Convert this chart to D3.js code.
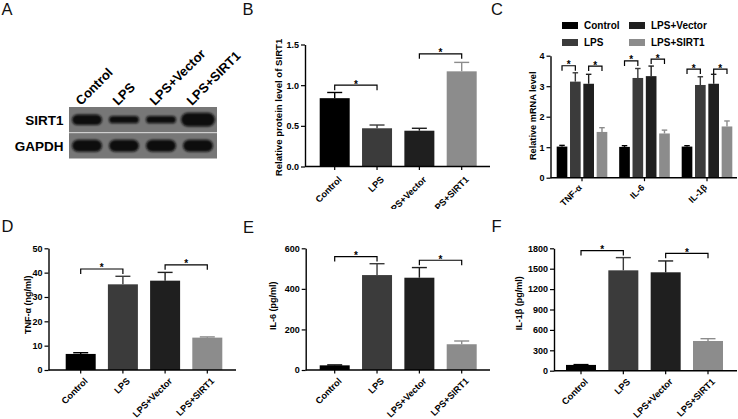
<!DOCTYPE html>
<html><head><meta charset="utf-8">
<script src="https://cdn.jsdelivr.net/npm/d3@7"></script>
<style>
html,body{margin:0;padding:0;background:#fff;}
svg{display:block;font-family:"Liberation Sans",Arial,sans-serif;}
</style></head><body>
<svg id="c" width="738" height="419"></svg>
<script>
// ---------- data ----------
const groups = ["Control", "LPS", "LPS+Vector", "LPS+SIRT1"];
const groupColors = ["#000000", "#3b3b3b", "#1f1f1f", "#8c8c8c"];

// A: western blot relative band intensities
const blotRows = ["SIRT1", "GAPDH"];
const sirt1Band = [1.0, 0.7, 0.7, 1.3];
const gapdhBand = [1.0, 1.0, 1.0, 1.0];

// B
const sirt1Protein = [0.84, 0.47, 0.44, 1.17];
const sirt1ProteinErr = [0.07, 0.04, 0.03, 0.11];
const sirt1Ticks = [0, 0.5, 1.0, 1.5];

// C
const genes = ["TNF-α", "IL-6", "IL-1β"];
const mrnaControl = [1.02, 1.01, 1.02];
const mrnaControlErr = [0.04, 0.04, 0.03];
const mrnaLPS = [3.15, 3.27, 3.04];
const mrnaLPSErr = [0.29, 0.31, 0.27];
const mrnaVector = [3.08, 3.33, 3.08];
const mrnaVectorErr = [0.31, 0.33, 0.31];
const mrnaSIRT1 = [1.50, 1.45, 1.68];
const mrnaSIRT1Err = [0.14, 0.11, 0.18];
const mrnaTicks = [0, 1, 2, 3, 4];
const mrnaBracket1 = [3.67, 3.83, 3.56];
const mrnaBracket2 = [3.66, 3.89, 3.56];

// D
const tnfa = [6.6, 35.2, 36.7, 13.3];
const tnfaErr = [0.5, 3.3, 3.4, 0.3];
const tnfaTicks = [0, 10, 20, 30, 40, 50];
// E
const il6 = [23, 468, 455, 127];
const il6Err = [2, 56, 50, 16];
const il6Ticks = [0, 200, 400, 600];
// F
const il1b = [85, 1476, 1447, 437];
const il1bErr = [5, 187, 167, 34];
const il1bTicks = [0, 300, 600, 900, 1200, 1500, 1800];

// ---------- drawing ----------
const svg = d3.select("#c");
svg.append("rect").attr("width", 738).attr("height", 419).attr("fill", "#fff");
const defs = svg.append("defs");
defs.append("clipPath").attr("id", "topRow").append("rect")
  .attr("x", 0).attr("y", 0).attr("width", 738).attr("height", 209);
defs.append("filter").attr("id", "blur").attr("x", "-20%").attr("y", "-50%")
  .attr("width", "140%").attr("height", "200%")
  .append("feGaussianBlur").attr("stdDeviation", 0.9);

function panelLetter(t, x, y) {
  svg.append("text").attr("x", x).attr("y", y).attr("font-size", 16.5)
    .attr("fill", "#111").text(t);
}
panelLetter("A", 1.5, 15); panelLetter("B", 242.5, 15); panelLetter("C", 491, 15);
panelLetter("D", 1.5, 232); panelLetter("E", 243, 233); panelLetter("F", 491.5, 232);

function drawBracket(g, x1, x2, yLine) {
  const drop = 5;
  g.append("path")
    .attr("d", `M${x1},${yLine + drop}V${yLine}H${x2}V${yLine + drop}`)
    .attr("fill", "none").attr("stroke", "#000").attr("stroke-width", 1.2);
  g.append("text").attr("x", (x1 + x2) / 2).attr("y", yLine + 2.5)
    .attr("text-anchor", "middle").attr("font-size", 10).attr("font-weight", "bold")
    .text("*");
}

function yAxis(g, y, ticks, fmt, axisX) {
  const ax = g.append("g").attr("transform", `translate(${axisX},0)`)
    .call(d3.axisLeft(y).tickValues(ticks).tickFormat(fmt).tickSize(4).tickSizeOuter(0).tickPadding(2));
  ax.select(".domain").attr("stroke", "#000").attr("stroke-width", 1.4);
  ax.selectAll(".tick line").attr("stroke", "#000").attr("stroke-width", 1.2);
  ax.selectAll(".tick text").attr("font-size", 9).attr("font-weight", "bold")
    .attr("font-family", "Liberation Sans, Arial, sans-serif").attr("fill", "#000");
}

function xAxis(g, centers, labels, axisX, axisEnd, y0, fontSize, dx, dy, clip) {
  g.append("line").attr("x1", axisX).attr("x2", axisEnd).attr("y1", y0).attr("y2", y0)
    .attr("stroke", "#000").attr("stroke-width", 1.4);
  const lg = g.append("g");
  if (clip) lg.attr("clip-path", "url(#topRow)");
  centers.forEach((cx, i) => {
    g.append("line").attr("x1", cx).attr("x2", cx).attr("y1", y0).attr("y2", y0 + 3.5)
      .attr("stroke", "#000").attr("stroke-width", 1.2);
    lg.append("text")
      .attr("transform", `translate(${cx + dx},${y0 + dy}) rotate(-45)`)
      .attr("text-anchor", "end").attr("dy", "0.71em")
      .attr("font-size", fontSize).attr("font-weight", "bold").text(labels[i]);
  });
}

function yTitle(g, text, x, y, size) {
  g.append("text").attr("transform", `translate(${x},${y}) rotate(-90)`)
    .attr("text-anchor", "middle").attr("font-size", size).attr("font-weight", "bold")
    .text(text);
}

function errorBar(g, cx, yTopVal, yErrVal, capW, color) {
  g.append("line").attr("x1", cx).attr("x2", cx).attr("y1", yTopVal).attr("y2", yErrVal)
    .attr("stroke", color).attr("stroke-width", 1.4);
  g.append("line").attr("x1", cx - capW / 2).attr("x2", cx + capW / 2)
    .attr("y1", yErrVal).attr("y2", yErrVal)
    .attr("stroke", color).attr("stroke-width", 1.4);
}

function barPanel(c) {
  const g = svg.append("g");
  const step = (c.c3 - c.c0) / 3;
  const pin = 1 - 30 / step;
  const x = d3.scaleBand().domain(groups).range([c.c0 - step / 2, c.c3 + step / 2])
    .paddingInner(pin).paddingOuter(pin / 2);
  const y = d3.scaleLinear().domain(c.domain).range([c.yBottom, c.yTop]);
  groups.forEach((k, i) => {
    const v = c.values[i], e = c.errors[i];
    const cx = x(k) + x.bandwidth() / 2;
    errorBar(g, cx, y(v), y(v + e), x.bandwidth() * 0.5, groupColors[i]);
    g.append("rect").attr("x", x(k)).attr("width", x.bandwidth())
      .attr("y", y(v)).attr("height", y(0) - y(v)).attr("fill", groupColors[i]);
  });
  yAxis(g, y, c.ticks, c.fmt, c.axisX);
  xAxis(g, groups.map(k => x(k) + x.bandwidth() / 2), groups, c.axisX, c.axisEnd, y(0), 9.2, 3, c.labDy, c.clip);
  yTitle(g, c.title, c.titleX, c.titleY, c.titleSize);
  c.brackets.forEach(b => {
    drawBracket(g, x(groups[b[0]]) + x.bandwidth() / 2, x(groups[b[1]]) + x.bandwidth() / 2, y(b[2]));
  });
}

// B
barPanel({values: sirt1Protein, errors: sirt1ProteinErr, domain: [0, 1.5], ticks: sirt1Ticks,
  fmt: d3.format(".1f"), axisX: 305, axisEnd: 490, yTop: 44.5, yBottom: 166.5, c0: 334.7, c3: 461.7,
  title: "Relative protein level of SIRT1", titleX: 282, titleY: 107.5, titleSize: 9.6,
  brackets: [[0, 1, 1.0], [2, 3, 1.385]], labDy: 9, clip: true});
// D
barPanel({values: tnfa, errors: tnfaErr, domain: [0, 50], ticks: tnfaTicks,
  fmt: d3.format("d"), axisX: 48.5, axisEnd: 236, yTop: 248.3, yBottom: 370, c0: 80.7, c3: 207.3,
  title: "TNF-α (ng/ml)", titleX: 30.5, titleY: 304.7, titleSize: 9,
  brackets: [[0, 1, 41.5], [2, 3, 43.2]], labDy: 7});
// E
barPanel({values: il6, errors: il6Err, domain: [0, 600], ticks: il6Ticks,
  fmt: d3.format("d"), axisX: 305.7, axisEnd: 490, yTop: 248.3, yBottom: 370, c0: 334.7, c3: 461.7,
  title: "IL-6 (pg/ml)", titleX: 276, titleY: 305.8, titleSize: 9,
  brackets: [[0, 1, 559], [2, 3, 541]], labDy: 7});
// F
barPanel({values: il1b, errors: il1bErr, domain: [0, 1800], ticks: il1bTicks,
  fmt: d3.format("d"), axisX: 554, axisEnd: 737, yTop: 248.3, yBottom: 370.7, c0: 581, c3: 708,
  title: "IL-1β (pg/ml)", titleX: 522, titleY: 303.3, titleSize: 9,
  brackets: [[0, 1, 1766], [2, 3, 1726]], labDy: 7});

// C grouped
(function () {
  const g = svg.append("g");
  const axisX = 550.5, axisEnd = 737, yTop = 55.7, yBottom = 177.7;
  const x0 = d3.scaleBand().domain(genes).range([550.75, 738.25]).paddingInner(0.19).paddingOuter(0.095);
  const x1 = d3.scaleBand().domain(groups).range([0, x0.bandwidth()]).paddingInner(0.2);
  const y = d3.scaleLinear().domain([0, 4]).range([yBottom, yTop]);
  const series = [mrnaControl, mrnaLPS, mrnaVector, mrnaSIRT1];
  const errs = [mrnaControlErr, mrnaLPSErr, mrnaVectorErr, mrnaSIRT1Err];
  genes.forEach((gene, gi) => {
    groups.forEach((k, si) => {
      const v = series[si][gi], e = errs[si][gi];
      const bx = x0(gene) + x1(k);
      const cx = bx + x1.bandwidth() / 2;
      errorBar(g, cx, y(v), y(v + e), 5.5, groupColors[si]);
      g.append("rect").attr("x", bx).attr("width", x1.bandwidth())
        .attr("y", y(v)).attr("height", y(0) - y(v)).attr("fill", groupColors[si]);
    });
    const cc = k => x0(gene) + x1(k) + x1.bandwidth() / 2;
    drawBracket(g, cc(groups[0]), cc(groups[1]), y(mrnaBracket1[gi]));
    drawBracket(g, cc(groups[2]), cc(groups[3]), y(mrnaBracket2[gi]));
  });
  yAxis(g, y, mrnaTicks, d3.format("d"), axisX);
  xAxis(g, genes.map(k => x0(k) + x0.bandwidth() / 2), genes, axisX, axisEnd, y(0), 9, -4, 6, true);
  yTitle(g, "Relative mRNA level", 536, 115.8, 9.2);
  const lg = svg.append("g");
  const legX = [562, 629], legY = [22, 39];
  const order = [[0, 0, 0], [1, 0, 1], [2, 1, 0], [3, 1, 1]];
  order.forEach(([si, col, row]) => {
    lg.append("rect").attr("x", legX[col]).attr("y", legY[row]).attr("width", 16).attr("height", 7)
      .attr("fill", groupColors[si]);
    lg.append("text").attr("x", legX[col] + 22).attr("y", legY[row] + 7)
      .attr("font-size", 10).attr("font-weight", "bold").text(groups[si]);
  });
})();

// A: western blot
(function () {
  const g = svg.append("g");
  const lane = d3.scalePoint().domain(groups).range([87, 198]);
  const row = d3.scaleBand().domain(blotRows).range([107, 158.5]).paddingInner(0.03);
  const thick = d3.scaleLinear().domain([0, 1]).range([0, 10.5]);
  g.append("rect").attr("x", 69).attr("y", 107).attr("width", 148).attr("height", 51.5).attr("fill", "#fff");
  const bands = [sirt1Band, gapdhBand];
  blotRows.forEach((r, ri) => {
    g.append("rect").attr("x", 69).attr("y", row(r)).attr("width", 148).attr("height", row.bandwidth())
      .attr("fill", "#777777");
    const cy = row(r) + row.bandwidth() / 2;
    groups.forEach((k, i) => {
      const h = thick(bands[ri][i]) * (ri === 1 ? 1.15 : 1);
      const w = 30 + (bands[ri][i] > 1 ? 4 : 0);
      g.append("rect").attr("x", lane(k) - w / 2).attr("y", cy - h / 2)
        .attr("width", w).attr("height", h).attr("rx", Math.min(w, h) / 2).attr("ry", h / 2)
        .attr("fill", "#0d0d0d").attr("filter", "url(#blur)");
    });
    g.append("text").attr("x", 63.5).attr("y", cy + 5).attr("text-anchor", "end")
      .attr("font-size", 13.5).attr("font-weight", "bold").text(r);
  });
  groups.forEach(k => {
    g.append("text").attr("transform", `translate(${lane(k) - 6},106) rotate(-45)`)
      .attr("font-size", 13).attr("font-weight", "bold").text(k);
  });
})();
</script>
</body></html>
